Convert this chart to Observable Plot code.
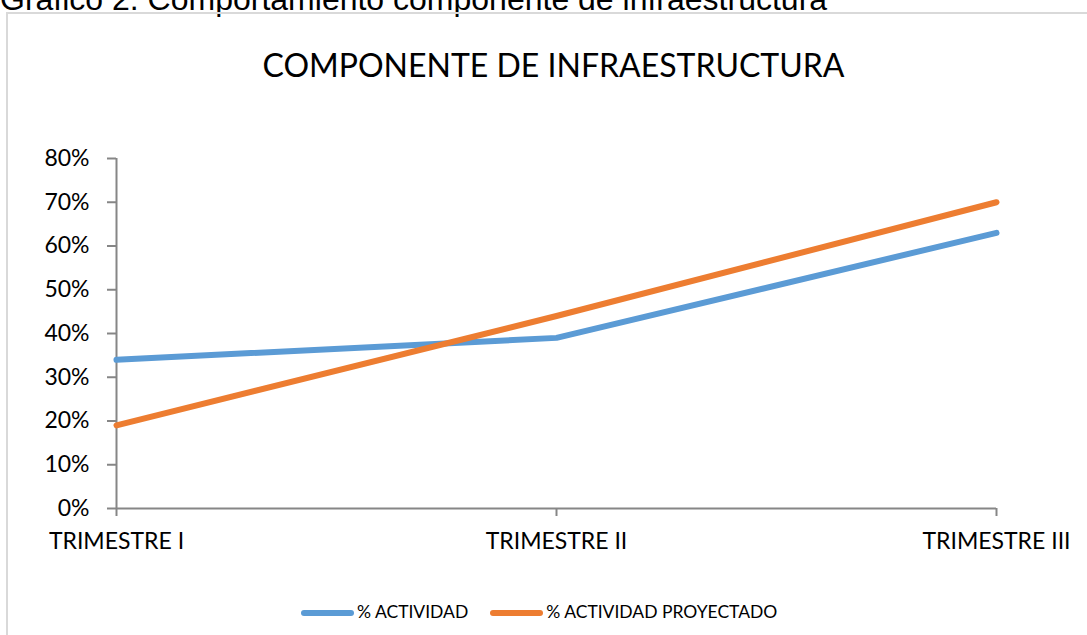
<!DOCTYPE html>
<html>
<head>
<meta charset="utf-8">
<script src="https://cdn.jsdelivr.net/npm/d3@7"></script>
<script src="https://cdn.jsdelivr.net/npm/@observablehq/plot@0.6"></script>
<style>
  html, body { margin: 0; padding: 0; background: #fff; overflow: hidden; }
  body { width: 1087px; height: 635px; position: relative; font-family: Lato, "Open Sans", sans-serif; }
  #caption { position: absolute; left: 0; top: -17px; font-family: "Liberation Sans", Arial, sans-serif; font-size: 32px; line-height: 32px; color: #000; white-space: nowrap; }
  #frame { position: absolute; left: 6px; top: 12px; width: 1100px; height: 640px; border: 2px solid #d9d9d9; box-sizing: border-box; }
  #title { position: absolute; left: 0; width: 1107px; top: 46px; text-align: center; font-size: 32px; line-height: 38px; color: #000; }
  #chart { position: absolute; left: 0; top: 0; }
  #legend { position: absolute; top: 601px; left: 301px; font-size: 17.5px; line-height: 22px; color: #000; white-space: nowrap; }
  .sw { display: inline-block; width: 53px; height: 6px; border-radius: 3px; vertical-align: middle; margin-right: 3px; position: relative; top: -1px; }
  .item { display: inline-block; }
</style>
</head>
<body>
<div id="caption">Gráfico 2. Comportamiento componente de infraestructura</div>
<div id="frame"></div>
<div id="title">COMPONENTE DE INFRAESTRUCTURA</div>
<div id="chart"></div>
<div id="legend"></div>
<script>
const categories = ["TRIMESTRE I", "TRIMESTRE II", "TRIMESTRE III"];
const seriesNames = ["% ACTIVIDAD", "% ACTIVIDAD PROYECTADO"];
const actividad = [0.34, 0.39, 0.63];
const proyectado = [0.19, 0.44, 0.70];
const yTicks = [0, 0.1, 0.2, 0.3, 0.4, 0.5, 0.6, 0.7, 0.8];
const colors = ["#5b9bd5", "#ed7d31"];

const data = [];
categories.forEach((c, i) => {
  data.push({cat: c, value: actividad[i], series: seriesNames[0]});
  data.push({cat: c, value: proyectado[i], series: seriesNames[1]});
});

const chart = Plot.plot({
  width: 1087,
  height: 560,
  marginLeft: 116,
  marginRight: 91,
  marginTop: 158,
  marginBottom: 52,
  style: {fontFamily: "Lato, 'Open Sans', sans-serif", fontSize: "23px", color: "#000", background: "transparent"},
  x: {type: "point", domain: categories, padding: 0, label: null},
  y: {domain: [0, 0.8], label: null},
  color: {domain: seriesNames, range: colors},
  marks: [
    Plot.axisY({ticks: yTicks, tickFormat: d => Math.round(d * 100) + "%", tickSize: 9, tickPadding: 18, stroke: "#868686", strokeWidth: 2, strokeOpacity: 1, fill: "#000", fontSize: 23, label: null}),
    Plot.axisX({tickSize: 8, tickPadding: 16, stroke: "#868686", strokeWidth: 2, strokeOpacity: 1, fill: "#000", fontSize: 23, label: null}),
    Plot.ruleY([0], {stroke: "#868686", strokeWidth: 2}),
    Plot.ruleX([categories[0]], {stroke: "#868686", strokeWidth: 2}),
    Plot.line(data, {x: "cat", y: "value", z: "series", stroke: "series", strokeWidth: 6, strokeLinejoin: "round"})
  ]
});
document.getElementById("chart").appendChild(chart);

const legend = document.getElementById("legend");
legend.innerHTML = seriesNames.map((s, i) =>
  `<span class="item" style="margin-right:${i === 0 ? 22 : 0}px"><span class="sw" style="background:${colors[i]}"></span>${s}</span>`
).join("");
</script>
</body>
</html>
